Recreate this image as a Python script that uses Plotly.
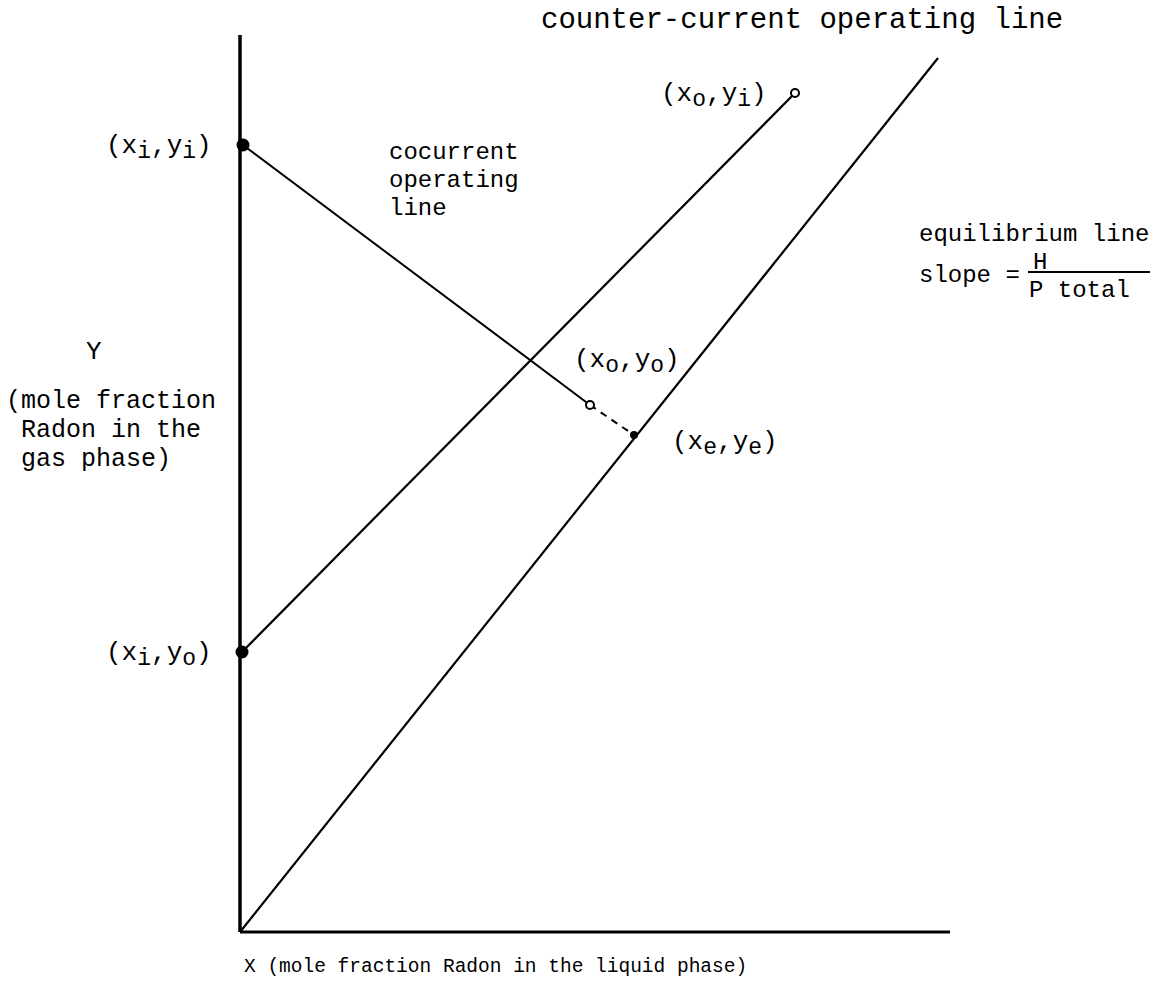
import plotly.graph_objects as go

# Diagram coordinates (x to the right, y upward), origin at the axes corner
origin = (240, 57)
x_axis_end = (950, 57)
y_axis_top = (240, 954)

# Operating / equilibrium line end points
point_xi_yi = (243, 844)
point_xi_yo = (242, 337)
point_xo_yi = (795, 896)
point_xo_yo = (590, 584)
point_xe_ye = (634, 554)
equilibrium_end = (938, 931)

FONT = "Liberation Mono"
FS = 24

fig = go.Figure()


def seg(p, q, width=2, dash="solid"):
    fig.add_trace(go.Scatter(
        x=[p[0], q[0]], y=[p[1], q[1]], mode="lines",
        line=dict(color="black", width=width, dash=dash),
        hoverinfo="skip", showlegend=False))


# axes
seg(origin, y_axis_top, width=3.5)
seg(origin, x_axis_end, width=3)
# equilibrium line
seg(origin, equilibrium_end, width=2.2)
# counter-current operating line
seg(point_xi_yo, point_xo_yi, width=2.2)
# cocurrent operating line
seg(point_xi_yi, point_xo_yo, width=2)
# approach to equilibrium
seg(point_xo_yo, point_xe_ye, width=2, dash="7px,6px")

# filled end points
fig.add_trace(go.Scatter(
    x=[point_xi_yi[0], point_xi_yo[0]], y=[point_xi_yi[1], point_xi_yo[1]],
    mode="markers", marker=dict(size=13, color="black"),
    hoverinfo="skip", showlegend=False))
fig.add_trace(go.Scatter(
    x=[point_xe_ye[0]], y=[point_xe_ye[1]],
    mode="markers", marker=dict(size=8, color="black"),
    hoverinfo="skip", showlegend=False))
# open end points
fig.add_trace(go.Scatter(
    x=[point_xo_yi[0], point_xo_yo[0]],
    y=[point_xo_yi[1], point_xo_yo[1]],
    mode="markers",
    marker=dict(size=8, color="white", line=dict(color="black", width=2)),
    hoverinfo="skip", showlegend=False))


def label(x, y, text, size=FS, xanchor="left"):
    fig.add_annotation(x=x, y=y, text=text, showarrow=False,
                       xanchor=xanchor, yanchor="middle", borderpad=0,
                       font=dict(family=FONT, size=size, color="black"))


def point_label(a, b):
    sub = "<sub><span style='font-size:23px'>{}</span></sub>"
    return "(x" + sub.format(a) + ",y" + sub.format(b) + ")"


label(540, 969, "counter-current operating line", size=29)
label(768, 893, point_label("o", "i"), size=26, xanchor="right")
label(105, 841, point_label("i", "i"), size=26)
label(388, 837, "cocurrent")
label(388, 809, "operating")
label(388, 781, "line")
label(918, 755, "equilibrium line")
label(918, 714, "slope =")
label(1040, 727, "H", xanchor="center")
label(1028, 699, "P total")
fig.add_shape(type="line", x0=1028, x1=1150, y0=717, y1=717,
              line=dict(color="black", width=2))
label(85, 637, "Y", size=26)
label(5, 588, "(mole fraction", size=25)
label(20, 559, "Radon in the", size=25)
label(20, 530, "gas phase)", size=25)
label(573, 627, point_label("o", "o"), size=26)
label(671, 545, point_label("e", "e"), size=26)
label(105, 334, point_label("i", "o"), size=26)
label(243, 22, "X (mole fraction Radon in the liquid phase)", size=19.5)

fig.update_layout(
    width=1158, height=989,
    margin=dict(l=0, r=0, t=0, b=0),
    paper_bgcolor="white", plot_bgcolor="white",
    xaxis=dict(range=[0, 1158], visible=False, fixedrange=True),
    yaxis=dict(range=[0, 989], visible=False, fixedrange=True),
    showlegend=False,
)

fig.write_html("out.html")
